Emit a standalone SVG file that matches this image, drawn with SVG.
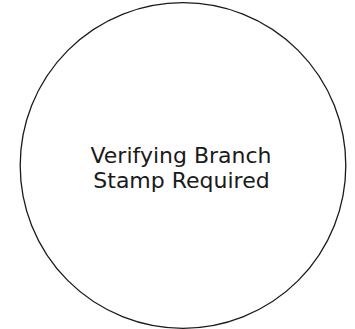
<svg xmlns="http://www.w3.org/2000/svg" width="355" height="329" viewBox="0 0 355 329">
<style>
.node{fill:#fff;stroke:#1a1a1a;stroke-width:1.3}
.label{font-family:"DejaVu Sans","Liberation Sans",sans-serif;font-size:22px;fill:#1a1a1a;text-anchor:middle}
</style>
<rect width="355" height="329" fill="#fff"/>
<g id="connectors"></g>
<g id="node-verifying">
<circle class="node" cx="183" cy="165.5" r="162.8"/>
<text class="label" x="181" y="162.5">Verifying Branch</text>
<text class="label" x="181.5" y="187.5">Stamp Required</text>
</g>
</svg>
